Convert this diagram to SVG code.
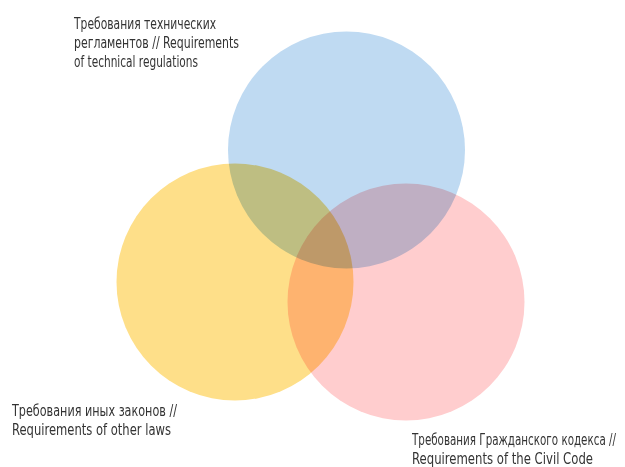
<svg xmlns="http://www.w3.org/2000/svg" width="625" height="467" viewBox="0 0 625 467">
<style>
.c{mix-blend-mode:multiply}
text{font-family:"DejaVu Sans Condensed","Liberation Sans",sans-serif;font-size:16px;fill:#333}
</style>
<rect width="625" height="467" fill="#fff"/>
<g id="circles" style="isolation:isolate">
<g id="blue"><circle class="c" cx="346.5" cy="150" r="118.5" fill="#BFDAF2"/></g>
<g id="yellow"><circle class="c" cx="235" cy="282" r="118.5" fill="#FEDF89"/></g>
<g id="pink"><circle class="c" cx="406" cy="302" r="118.5" fill="#FFCDCE"/></g>
</g>
<g id="label-tech">
<text transform="translate(74,29) scale(0.7,1)" textLength="202.9" lengthAdjust="spacingAndGlyphs">Требования технических</text>
<text transform="translate(74,48) scale(0.7,1)" textLength="235.7" lengthAdjust="spacingAndGlyphs">регламентов // Requirements</text>
<text transform="translate(74,67) scale(0.7,1)" textLength="177.1" lengthAdjust="spacingAndGlyphs">of technical regulations</text>
</g>
<g id="label-laws">
<text transform="translate(12,416) scale(0.7,1)" textLength="235.7" lengthAdjust="spacingAndGlyphs">Требования иных законов //</text>
<text transform="translate(12,435) scale(0.7,1)" textLength="227.1" lengthAdjust="spacingAndGlyphs">Requirements of other laws</text>
</g>
<g id="label-civil">
<text transform="translate(412,445) scale(0.7,1)" textLength="291.4" lengthAdjust="spacingAndGlyphs">Требования Гражданского кодекса //</text>
<text transform="translate(412,464) scale(0.7,1)" textLength="258.6" lengthAdjust="spacingAndGlyphs">Requirements of the Civil Code</text>
</g>
<g id="connectors"/>
</svg>
